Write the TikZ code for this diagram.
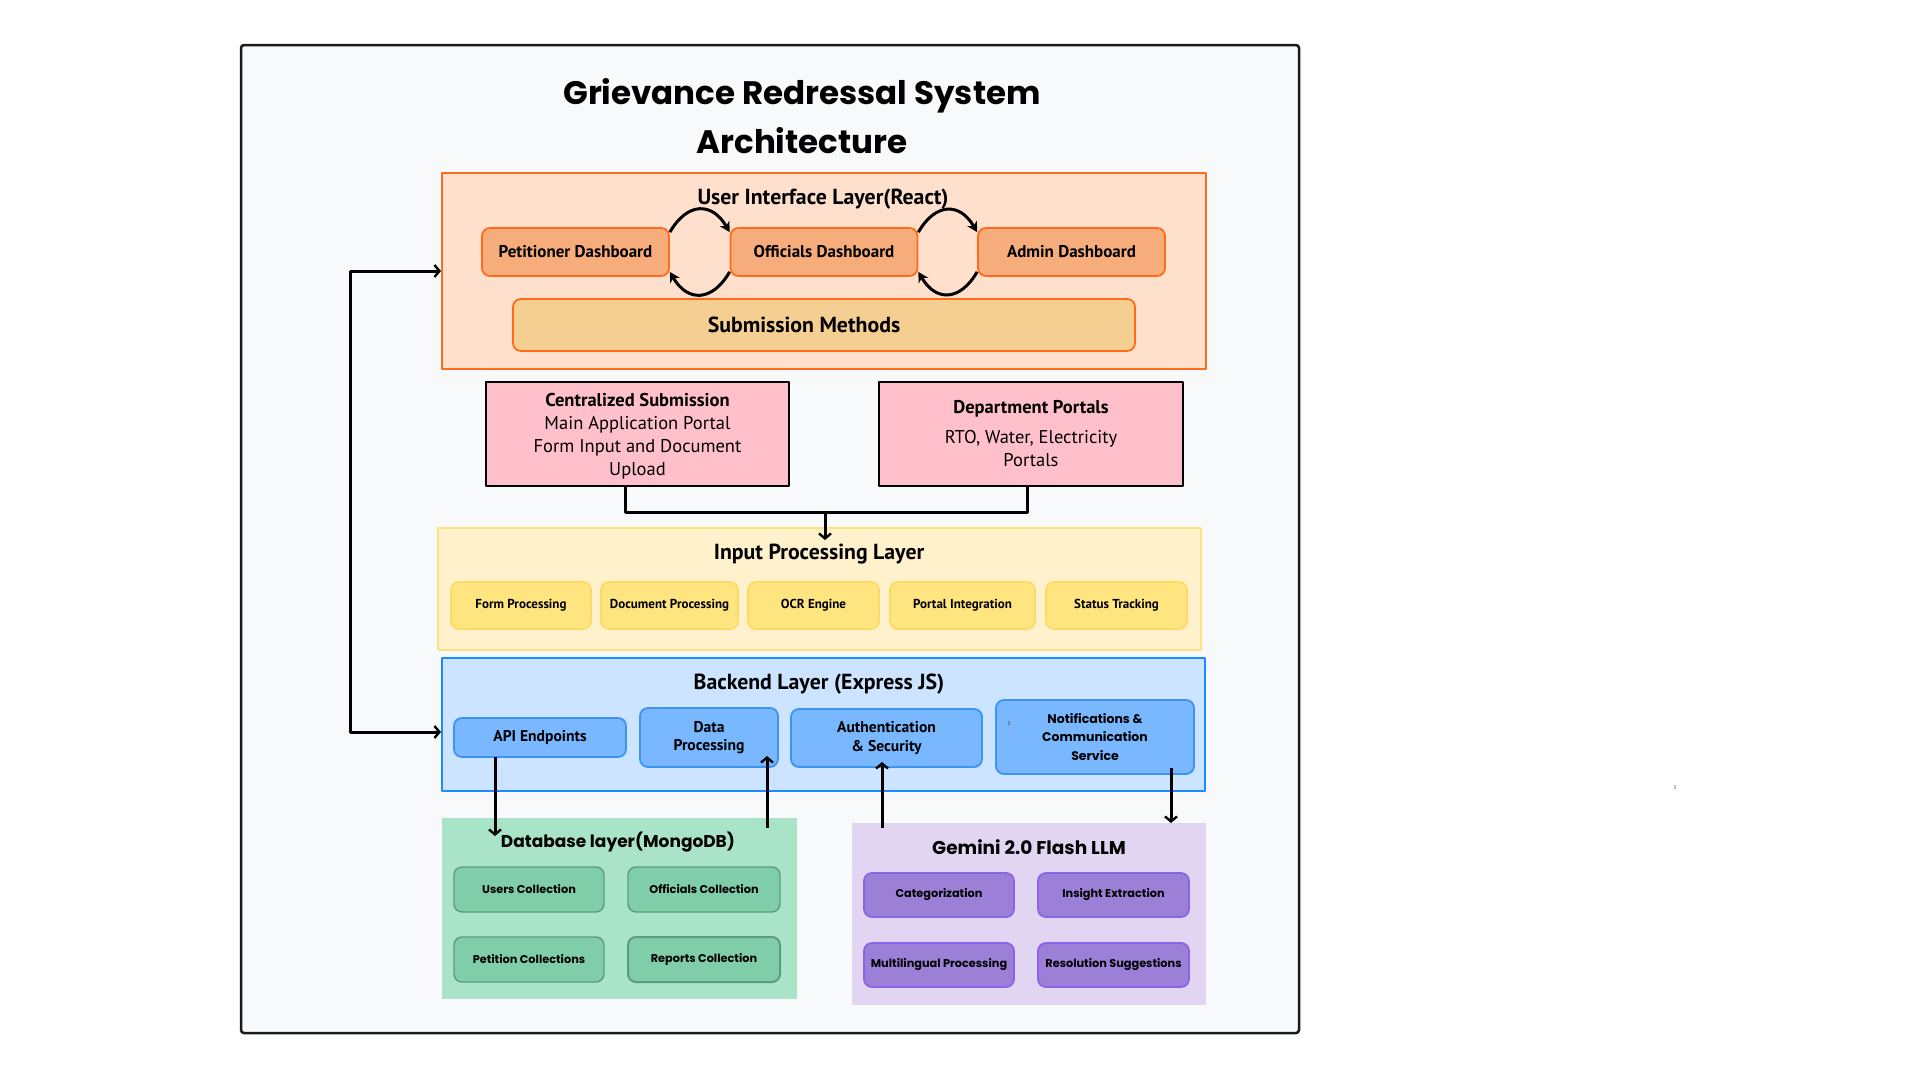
\documentclass[tikz,border=0pt]{standalone}
\usepackage{fontspec}
\setmainfont{PT Sans}
\newfontfamily\popfont{Poppins}
\usetikzlibrary{arrows.meta, positioning}
\definecolor{pagebg}{HTML}{F8F9FA}
\definecolor{uifill}{HTML}{FFE0CC}
\definecolor{uiedge}{HTML}{FF6B1A}
\definecolor{dashfill}{HTML}{F7AD7B}
\definecolor{submfill}{HTML}{F5CF91}
\definecolor{pinkfill}{HTML}{FFC0CB}
\definecolor{infill}{HTML}{FFF1CC}
\definecolor{inedge}{HTML}{FFE27A}
\definecolor{insub}{HTML}{FFE57F}
\definecolor{insubedge}{HTML}{FFD966}
\definecolor{befill}{HTML}{CCE4FF}
\definecolor{beedge}{HTML}{1A8CFF}
\definecolor{besub}{HTML}{79B8FF}
\definecolor{besubedge}{HTML}{3A93F5}
\definecolor{dbfill}{HTML}{A9E4C9}
\definecolor{dbsub}{HTML}{80CDA9}
\definecolor{dbsubedge}{HTML}{5C9C7E}
\definecolor{gemfill}{HTML}{E1D5F1}
\definecolor{gemsub}{HTML}{9C80D8}
\definecolor{gemsubedge}{HTML}{8A64E8}
\tikzset{
  layer/.style    = {rectangle, inner sep=0pt, line width=2pt},
  layertitle/.style = {font=\fontsize{21.8}{24}\selectfont\bfseries, inner sep=0pt},
  poptitle/.style = {font=\popfont\fontsize{17}{20}\selectfont\bfseries, inner sep=0pt},
  subbox/.style   = {rectangle, rounded corners=8pt, line width=1.8pt,
                     align=center, inner sep=0pt},
  dashbox/.style  = {subbox, fill=dashfill, draw=uiedge, minimum width=187pt,
                     minimum height=48pt, font=\fontsize{17}{20}\selectfont\bfseries},
  inbox/.style    = {subbox, fill=insub, draw=insubedge, minimum height=47pt,
                     font=\fontsize{13}{15}\selectfont\bfseries},
  bebox/.style    = {subbox, fill=besub, draw=besubedge,
                     font=\fontsize{15.6}{18.5}\selectfont\bfseries},
  dbbox/.style    = {subbox, fill=dbsub, draw=dbsubedge, line width=1.4pt,
                     minimum width=150pt, minimum height=45pt,
                     font=\popfont\fontsize{11.3}{13}\selectfont\bfseries},
  gembox/.style   = {subbox, fill=gemsub, draw=gemsubedge,
                     minimum width=150pt, minimum height=44pt,
                     font=\popfont\fontsize{11.3}{13}\selectfont\bfseries},
  portal/.style   = {rectangle, fill=pinkfill, draw=black, line width=1.8pt,
                     minimum width=303pt, minimum height=104pt, inner sep=0pt,
                     align=center, font=\fontsize{18.5}{23}\selectfont},
  wire/.style     = {line width=3pt},
  flow/.style     = {wire, -{Straight Barb[length=5pt,width=12pt,line width=2.4pt]}},
  swap/.style     = {wire, -{Stealth[length=10pt,width=11pt,inset=3pt]},
                     looseness=1.5},
  tiny/.style     = {font=\fontsize{5}{5}\selectfont, inner sep=0pt, text=black!80},
}

\begin{document}
\begin{tikzpicture}[x={(1pt,0pt)}, y={(0pt,-1pt)}, line join=round]
  \useasboundingbox[fill=white] (0,0) rectangle (1920,1080);
  \draw[black!90, line width=2.5pt, fill=pagebg, rounded corners=3pt]
    (241,45) rectangle (1299,1033);
  \node[align=center, font=\popfont\fontsize{32.5}{49}\selectfont\bfseries]
    (title) at (802,116) {Grievance Redressal System\\Architecture};

  % user interface layer
  \node[layer, fill=uifill, draw=uiedge, minimum width=764pt, minimum height=196pt]
    (ui) at (824,271) {};
  \node[layertitle] (uititle) at (823,199) {User Interface Layer(React)};
  \node[dashbox] (pet) at (575.5,252) {Petitioner Dashboard};
  \node[dashbox] (off) at (824,252) {Officials Dashboard};
  \node[dashbox] (adm) at (1071.5,252) {Admin Dashboard};
  \node[subbox, fill=submfill, draw=uiedge, minimum width=622pt, minimum height=52pt]
    (subm) at (824,325) {};
  \node[font=\fontsize{21.8}{24}\selectfont\bfseries, inner sep=0pt]
    (submtext) at (804,325) {Submission Methods};
  \draw[swap] ([yshift=-5pt]pet.north east) to[out=60,in=120] ([yshift=-5pt]off.north west);
  \draw[swap] ([yshift=5pt]off.south west) to[out=-120,in=-60] ([yshift=5pt]pet.south east);
  \draw[swap] ([yshift=-5pt]off.north east) to[out=60,in=120] ([yshift=-5pt]adm.north west);
  \draw[swap] ([yshift=5pt]adm.south west) to[out=-120,in=-60] ([yshift=5pt]off.south east);

  % submission portals
  \node[portal] (cent) at (637.5,434)
    {\\[-5pt]\textbf{Centralized Submission}\\Main Application Portal\\Form Input and Document\\Upload};
  \node[portal, minimum width=304pt] (dept) at (1031,434)
    {\textbf{Department Portals}\\[7pt]RTO, Water, Electricity\\Portals};
  \coordinate (join) at (825,512);
  \coordinate (inarrow) at (825,540);
  \draw[wire] ([xshift=-12pt]cent.south) |- (join) -| ([xshift=-4pt]dept.south);

  % input processing layer
  \node[layer, fill=infill, draw=inedge, minimum width=763pt, minimum height=122pt]
    (inlayer) at (819.5,589) {};
  \node[layertitle] (intitle) at (819,554) {Input Processing Layer};
  \draw[flow] (join) -- (inarrow);
  \node[inbox, minimum width=140pt] (form) at (521,605.5) {Form Processing};
  \node[inbox, minimum width=137pt] (docp) at (669.5,605.5) {Document Processing};
  \node[inbox, minimum width=131pt] (ocr) at (813.5,605.5) {OCR Engine};
  \node[inbox, minimum width=145pt] (portint) at (962.5,605.5) {Portal Integration};
  \node[inbox, minimum width=141pt] (status) at (1116.5,605.5) {Status Tracking};

  % backend layer
  \node[layer, fill=befill, draw=beedge, minimum width=763pt, minimum height=133pt]
    (backend) at (823.5,724.5) {};
  \node[layertitle] (betitle) at (819,684) {Backend Layer (Express JS)};
  \node[bebox, minimum width=172pt, minimum height=39pt] (api) at (540,737.5) {API Endpoints};
  \node[bebox, minimum width=138pt, minimum height=59pt] (dproc) at (709,737.5) {Data\\Processing};
  \node[bebox, minimum width=191pt, minimum height=58pt] (auth) at (886.5,738) {Authentication\\\& Security};
  \node[bebox, minimum width=198pt, minimum height=74pt,
        font=\popfont\fontsize{12.5}{18.5}\selectfont\bfseries] (notif) at (1095,737)
    {Notifications \&\\Communication\\Service};
  \node[tiny] (mark1) at (1009,724) {3};

  % feedback loop
  \coordinate (fbtop) at (350,271);
  \coordinate (fbbot) at (350,732);
  \draw[flow, {Straight Barb[length=5pt,width=12pt,line width=2.4pt]}-{Straight Barb[length=5pt,width=12pt,line width=2.4pt]}]
    (ui.west) -- (fbtop) -- (fbbot) -- (fbbot -| backend.west);

  % database layer
  \node[layer, fill=dbfill, minimum width=355pt, minimum height=181pt]
    (db) at (619.5,908.5) {};
  \node[poptitle] (dbtitle) at (618,842) {Database layer(MongoDB)};
  \node[dbbox] (users) at (529,889.5) {Users Collection};
  \node[dbbox, minimum width=152pt] (offcol) at (704,889.5) {Officials Collection};
  \node[dbbox] (petcol) at (529,959.5) {Petition Collections};
  \node[dbbox, minimum width=152pt, line width=2pt] (repcol) at (704,959.5) {Reports Collection};

  % gemini layer
  \node[layer, fill=gemfill, minimum width=354pt, minimum height=182pt]
    (gem) at (1029,914) {};
  \node[poptitle, font=\popfont\fontsize{18.5}{20}\selectfont\bfseries] (gemtitle) at (1029,847) {Gemini 2.0 Flash LLM};
  \node[gembox] (cat) at (939,895) {Categorization};
  \node[gembox, minimum width=151pt] (insight) at (1113.5,895) {Insight Extraction};
  \node[gembox] (multi) at (939,965) {Multilingual Processing};
  \node[gembox, minimum width=151pt] (resol) at (1113.5,965) {Resolution Suggestions};

  % links between layers
  \coordinate (apiout) at (495,757);
  \coordinate (dbin) at (495,836);
  \coordinate (dbout) at (767,828);
  \coordinate (dpin) at (767,756);
  \coordinate (gemout) at (882,828);
  \coordinate (authin) at (882,762);
  \coordinate (notout) at (1171,768);
  \coordinate (gemin) at (1171,823);
  \draw[flow] (apiout) -- (dbin);
  \draw[flow] (dbout) -- (dpin);
  \draw[flow] (gemout) -- (authin);
  \draw[flow] (notout) -- (gemin);
  \node[tiny] (mark2) at (1675,788) {3};
\end{tikzpicture}
\end{document}
